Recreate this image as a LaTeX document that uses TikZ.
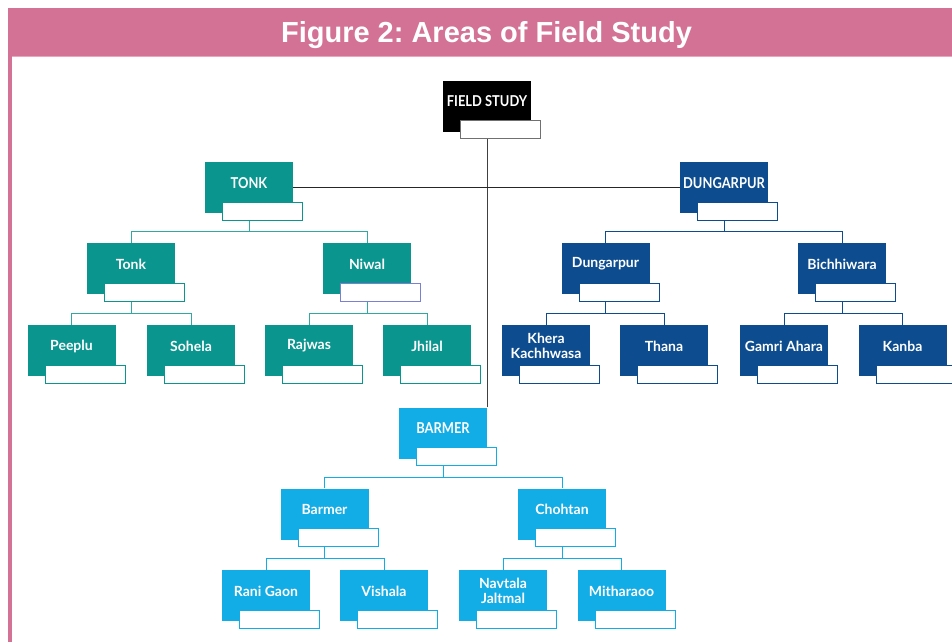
\documentclass[tikz,border=0pt]{standalone}
\usepackage{fontspec}
\setmainfont{Lato}
\newfontfamily\titlefont{Liberation Sans}
\newfontfamily\capfont[FakeStretch=0.86]{Lato}
\usetikzlibrary{calc}

\definecolor{pinkband}{HTML}{D37294}
\definecolor{pinkline}{HTML}{E9A5BE}
\definecolor{tealc}{HTML}{0A958F}
\definecolor{tealln}{HTML}{2FA9A2}
\definecolor{navyc}{HTML}{0D4C8E}
\definecolor{skyc}{HTML}{12ACE6}
\definecolor{lavc}{HTML}{7C80D2}
\definecolor{grayc}{HTML}{707070}

\newcommand\capsize{\capfont\bfseries\fontsize{15}{16}\selectfont}

\tikzset{
  box/.style={draw=none, fill=#1, minimum width=88pt, minimum height=51pt, inner sep=0pt},
  tag/.style={draw=#1, fill=white, line width=0.9pt, minimum width=80pt, minimum height=18pt, inner sep=0pt},
  lbl/.style={text=white, font=\fontsize{14}{16}\selectfont\bfseries, align=center, inner sep=0pt},
  conn/.style={draw=#1, line width=1pt},
  trunk/.style={draw=black!75, line width=1pt},
  crossbar/.style={draw=black!85, line width=1.2pt},
}

\newcommand\orgbox[6]{%
  \node[box=#4] (#1) at (#2,#3) {};
  \node[tag=#5] (#1-w) at ($(#1.south west)+(58,-2)$) {};
  \node[lbl] (#1-t) at ($(#1.center)+(0,-4.5)$) {#6};
}
\newcommand\branch[4]{%
  \draw[conn=#4] (#1 |- #1-w.south) -- ($(#1 |- #1-w.south)!.5!(#1 |- #2.north)$);
  \draw[conn=#4] (#2.north) |- ($(#1 |- #1-w.south)!.5!(#1 |- #2.north)$) -| (#3.north);
}

\begin{document}
\frenchspacing
\begin{tikzpicture}[x=1pt, y=-1pt]
\useasboundingbox (0,0) rectangle (952,642);
\fill[white] (0,0) rectangle (952,642);
% frame
\fill[pinkband] (8,8) rectangle (952,56);
\fill[pinkline] (12,56) rectangle (952,57.5);
\fill[pinkband] (8,56) rectangle (12,642);
\node[font=\titlefont\bfseries\fontsize{29}{32}\selectfont, text=white, anchor=base, inner sep=0pt] (title) at (486.5,42) {Figure 2: Areas of Field Study};

% nodes
\orgbox{fs}{487}{106}{black}{grayc}{{\capsize FIELD STUDY}}
\orgbox{tonk}{249}{187.5}{tealc}{tealc}{{\capsize TONK}}
\orgbox{dung}{724}{187.5}{navyc}{navyc}{{\capsize DUNGARPUR}}
\orgbox{tonkb}{131}{268.5}{tealc}{tealc}{Tonk}
\orgbox{niwal}{367}{268.5}{tealc}{lavc}{Niwal}
\orgbox{dungb}{605.5}{268.5}{navyc}{navyc}{Dungarpur}
\orgbox{bich}{842}{268.5}{navyc}{navyc}{Bichhiwara}
\orgbox{peeplu}{71.5}{350.5}{tealc}{tealc}{Peeplu}
\orgbox{sohela}{191}{350.5}{tealc}{tealc}{Sohela}
\orgbox{rajwas}{309}{350.5}{tealc}{tealc}{Rajwas}
\orgbox{jhilal}{427}{350.5}{tealc}{tealc}{Jhilal}
\orgbox{khera}{546}{350.5}{navyc}{navyc}{Khera\\[-1pt]Kachhwasa}
\orgbox{thana}{664}{350.5}{navyc}{navyc}{Thana}
\orgbox{gamri}{784}{350.5}{navyc}{navyc}{Gamri Ahara}
\orgbox{kanba}{902.5}{350.5}{navyc}{navyc}{Kanba}
\orgbox{barmer}{443}{433}{skyc}{skyc}{{\capsize BARMER}}
\orgbox{barmerb}{324.5}{514}{skyc}{skyc}{Barmer}
\orgbox{chohtan}{562}{514}{skyc}{skyc}{Chohtan}
\orgbox{rani}{266}{595.5}{skyc}{skyc}{Rani Gaon}
\orgbox{vishala}{384}{595.5}{skyc}{skyc}{Vishala}
\orgbox{navtala}{503}{595.5}{skyc}{skyc}{Navtala\\[-1pt]Jaltmal}
\orgbox{mitha}{621.5}{595.5}{skyc}{skyc}{Mitharaoo}

% top-level connectors
\draw[trunk] (fs |- fs-w.south) -- (fs |- barmer.north);
\draw[crossbar] (tonk.east) -- (dung.west);

% branches
\branch{tonk}{tonkb}{niwal}{tealln}
\branch{tonkb}{peeplu}{sohela}{tealln}
\branch{niwal}{rajwas}{jhilal}{tealln}
\branch{dung}{dungb}{bich}{navyc}
\branch{dungb}{khera}{thana}{navyc}
\branch{bich}{gamri}{kanba}{navyc}
\branch{barmer}{barmerb}{chohtan}{skyc}
\branch{barmerb}{rani}{vishala}{skyc}
\branch{chohtan}{navtala}{mitha}{skyc}
\end{tikzpicture}
\end{document}
